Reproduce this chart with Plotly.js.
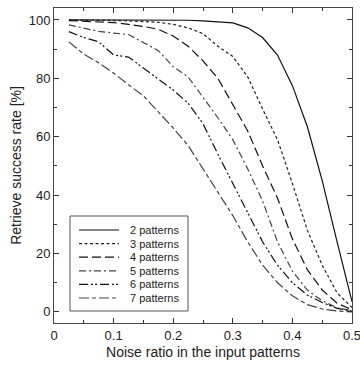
<!DOCTYPE html>
<html>
<head>
<meta charset="utf-8">
<script src="https://cdn.plot.ly/plotly-3.0.1.min.js"></script>
<style>
html,body{margin:0;padding:0;background:#fff;}
#chart{width:360px;height:365px;}
</style>
</head>
<body>
<div id="chart"></div>
<script>
// Noise ratio values (x)
var noiseRatio = [0.025,0.05,0.075,0.1,0.125,0.15,0.175,0.2,0.225,0.25,0.275,0.3,0.325,0.35,0.375,0.4,0.425,0.45,0.475,0.5];

// Retrieve success rate [%] per number of stored patterns
var patterns2 = [100,100,100,100,100,100,100,100,99.9,99.7,99.4,99,97.3,94,88,77.5,63.5,45,24,3.5];
var patterns3 = [100,100,99.9,99.8,99.7,99.5,99.2,98.5,97.3,95.3,91,87.5,80.5,69.5,59,44,28,16,6.5,1.5];
var patterns4 = [99.8,99.6,99.4,99.1,98.5,97.8,96.8,94.5,91,86,80,71,62,50,39,25,14.5,7.5,3,0.7];
var patterns5 = [98.3,97.3,96.1,95.5,95,92.3,89.5,84,80.5,73.5,66.5,59,49,38,24,14,7.5,3.8,1.4,0.4];
var patterns6 = [96,94,92.5,88,87.3,83.5,80,76,71.5,64.5,54,44,34,24,16,10,5.8,3.2,1.2,0.3];
var patterns7 = [92.5,88.3,85.3,81.8,77.8,74,68.5,63,57,49,41,33,24,16,10,5.5,2.5,1,0.3,0];

var seriesNames = ["2 patterns","3 patterns","4 patterns","5 patterns","6 patterns","7 patterns"];
var seriesValues = [patterns2,patterns3,patterns4,patterns5,patterns6,patterns7];

var xTickVals = [0,0.1,0.2,0.3,0.4,0.5];
var xTickText = ["0","0.1","0.2","0.3","0.4","0.5"];
var yTickVals = [0,20,40,60,80,100];
var yTickText = ["0","20","40","60","80","100"];

// styles
var dashes = ["solid","3px,2.5px","9px,4px","7px,3px,2px,3px","9px,3px,2px,2px,2px,3px","10px,3px,4px,3px"];
var colors = ["#111","#222","#111","#444","#111","#444"];
var FONT = "Liberation Sans, Arial, Helvetica, sans-serif";

var traces = seriesValues.map(function(v,i){
  return {
    x: noiseRatio, y: v, type: "scatter", mode: "lines", name: seriesNames[i],
    line: {color: colors[i], width: 1.2, dash: dashes[i]},
    showlegend: false, hoverinfo: "skip"
  };
});

// legend drawn with paper-coordinate shapes + annotations
var pl = 54, pr = 352, pt = 8, pb = 323;
function px2paperX(px){ return (px - pl) / (pr - pl); }
function px2paperY(py){ return (pb - py) / (pb - pt); }

var shapes = [{
  type: "rect", xref: "paper", yref: "paper",
  x0: px2paperX(70), x1: px2paperX(188), y0: px2paperY(311), y1: px2paperY(216),
  line: {color: "#555", width: 1}, fillcolor: "#fff", layer: "above"
}];
var annotations = [];
var rowY = [230, 243.6, 257.2, 270.8, 284.4, 298];
seriesNames.forEach(function(n,i){
  shapes.push({
    type: "line", xref: "paper", yref: "paper",
    x0: px2paperX(79), x1: px2paperX(119), y0: px2paperY(rowY[i]), y1: px2paperY(rowY[i]),
    line: {color: colors[i], width: 1.2, dash: dashes[i]}, layer: "above"
  });
  annotations.push({
    xref: "paper", yref: "paper", x: px2paperX(128), y: px2paperY(rowY[i]),
    xanchor: "left", yanchor: "middle", showarrow: false, text: n,
    font: {family: FONT, size: 11, color: "#222"}
  });
});

var layout = {
  width: 360, height: 365,
  margin: {l: pl, r: 360 - pr, t: pt, b: 365 - pb},
  paper_bgcolor: "#fff", plot_bgcolor: "#fff",
  font: {family: FONT, size: 13, color: "#222"},
  showlegend: false,
  xaxis: {
    range: [0, 0.5], tickvals: xTickVals, ticktext: xTickText,
    ticklabeloverflow: "allow",
    ticks: "inside", ticklen: 5, tickcolor: "#333", tickwidth: 1,
    minor: {ticks: "inside", dtick: 0.05, ticklen: 3, tickcolor: "#333"},
    showline: true, linecolor: "#444", linewidth: 1, mirror: "allticks",
    showgrid: false, zeroline: false,
    tickfont: {family: FONT, size: 13, color: "#222"},
    title: {text: "Noise ratio in the input patterns", font: {family: FONT, size: 14, color: "#222"}, standoff: 5}
  },
  yaxis: {
    range: [-3.8, 104.1], tickvals: yTickVals, ticktext: yTickText,
    ticks: "inside", ticklen: 5, tickcolor: "#333", tickwidth: 1,
    minor: {ticks: "inside", dtick: 10, ticklen: 3, tickcolor: "#333"},
    showline: true, linecolor: "#444", linewidth: 1, mirror: "allticks",
    showgrid: false, zeroline: false,
    tickfont: {family: FONT, size: 13, color: "#222"},
    title: {text: "Retrieve success rate [%]", font: {family: FONT, size: 14, color: "#222"}, standoff: 3}
  },
  shapes: shapes,
  annotations: annotations
};

Plotly.newPlot("chart", traces, layout, {displayModeBar: false, staticPlot: true});
</script>
</body>
</html>
